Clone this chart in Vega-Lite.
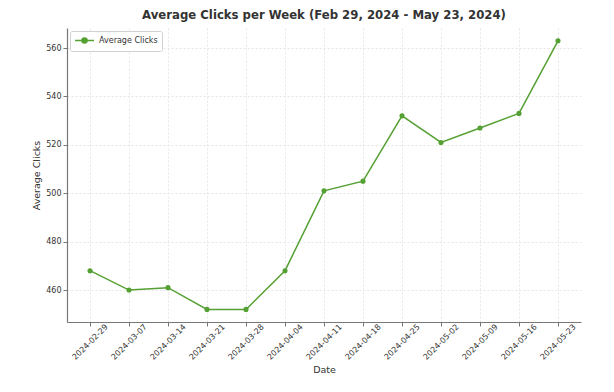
{
  "$schema": "https://vega.github.io/schema/vega-lite/v6.json",
  "width": 514,
  "height": 294,
  "autosize": {"type": "none"},
  "padding": {"left": 67, "top": 28, "right": 33, "bottom": 70},
  "background": "white",
  "title": {"text": "Average Clicks per Week (Feb 29, 2024 - May 23, 2024)", "font": "DejaVu Sans", "fontSize": 11.7, "fontWeight": "bold", "color": "#333333", "offset": 6},
  "data": {"values": [
    {"Date": "2024-02-29", "clicks": 468, "series": "Average Clicks"},
    {"Date": "2024-03-07", "clicks": 460, "series": "Average Clicks"},
    {"Date": "2024-03-14", "clicks": 461, "series": "Average Clicks"},
    {"Date": "2024-03-21", "clicks": 452, "series": "Average Clicks"},
    {"Date": "2024-03-28", "clicks": 452, "series": "Average Clicks"},
    {"Date": "2024-04-04", "clicks": 468, "series": "Average Clicks"},
    {"Date": "2024-04-11", "clicks": 501, "series": "Average Clicks"},
    {"Date": "2024-04-18", "clicks": 505, "series": "Average Clicks"},
    {"Date": "2024-04-25", "clicks": 532, "series": "Average Clicks"},
    {"Date": "2024-05-02", "clicks": 521, "series": "Average Clicks"},
    {"Date": "2024-05-09", "clicks": 527, "series": "Average Clicks"},
    {"Date": "2024-05-16", "clicks": 533, "series": "Average Clicks"},
    {"Date": "2024-05-23", "clicks": 563, "series": "Average Clicks"}
  ]},
  "mark": {"type": "line", "strokeWidth": 1.5, "point": {"filled": true, "size": 26}},
  "encoding": {
    "x": {"field": "Date", "type": "ordinal", "scale": {"type": "point", "padding": 0.59},
      "axis": {"title": "Date", "labelAngle": -45, "labelAlign": "center", "labelBaseline": "middle", "labelPadding": 16, "labelFont": "DejaVu Sans", "labelFontSize": 8, "labelColor": "#333333", "titleFont": "DejaVu Sans", "titleFontSize": 9.5, "titleFontWeight": "normal", "titleColor": "#333333", "titlePadding": 3, "grid": true, "gridColor": "#e6e6e6", "gridDash": [2, 2], "domainColor": "#777777", "domainWidth": 1.2, "tickColor": "#777777", "tickSize": 4}},
    "y": {"field": "clicks", "type": "quantitative", "scale": {"domain": [446.8, 568.3], "nice": false, "zero": false},
      "axis": {"title": "Average Clicks", "values": [460, 480, 500, 520, 540, 560], "labelFont": "DejaVu Sans", "labelFontSize": 8, "labelColor": "#333333", "titleFont": "DejaVu Sans", "titleFontSize": 9.5, "titleFontWeight": "normal", "titleColor": "#333333", "titlePadding": 4, "grid": true, "gridColor": "#e6e6e6", "gridDash": [2, 2], "domainColor": "#777777", "domainWidth": 1.2, "tickColor": "#777777", "tickSize": 4}},
    "color": {"field": "series", "type": "nominal", "scale": {"range": ["#55a033"]},
      "legend": {"title": null, "orient": "top-left", "offset": 3, "labelFont": "DejaVu Sans", "labelFontSize": 8, "labelColor": "#333333", "strokeColor": "#d0d0d0", "padding": 4, "cornerRadius": 2, "fillColor": "white", "symbolType": "M-2,0H2M0.54,0A0.54,0.54,0,1,1,-0.54,0A0.54,0.54,0,1,1,0.54,0", "symbolSize": 90, "symbolStrokeWidth": 1.5, "symbolFillColor": "#55a033", "symbolStrokeColor": "#55a033", "symbolOffset": 5, "labelOffset": 9}}
  },
  "config": {"view": {"stroke": null}}
}
